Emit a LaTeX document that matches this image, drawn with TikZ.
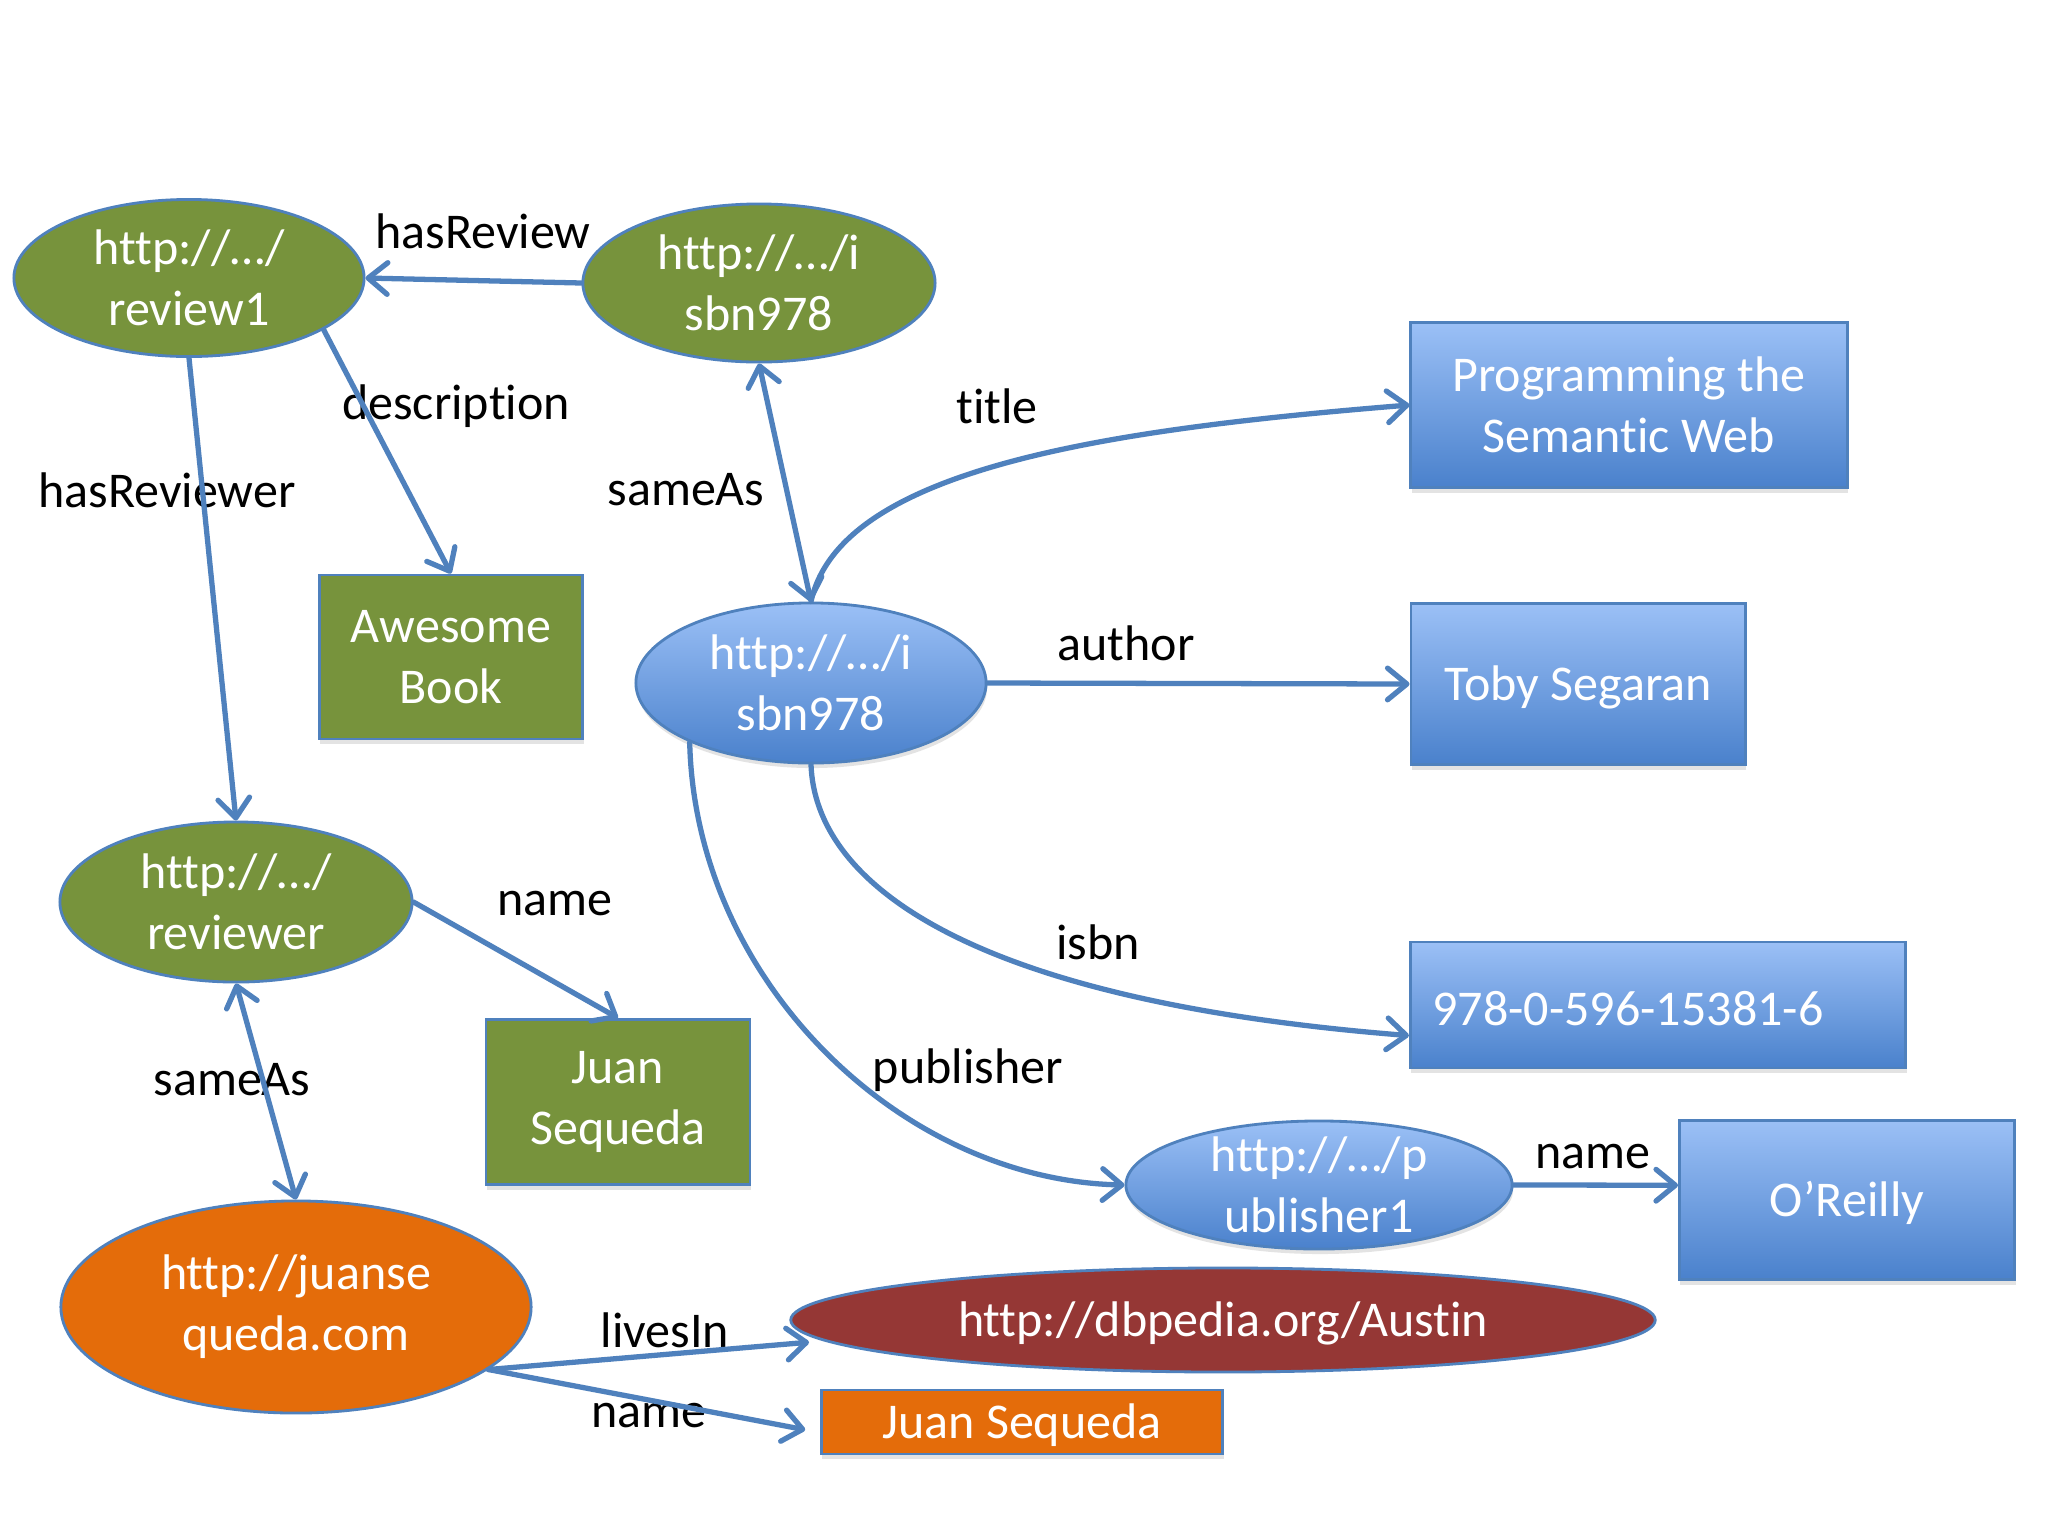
\documentclass[tikz,border=0pt]{standalone}
\usepackage{fontspec}
\setmainfont{Carlito}[Ligatures=NoCommon]
\usetikzlibrary{shapes.geometric,arrows.meta,shadows}
\definecolor{edgeblue}{HTML}{4F81BD}
\definecolor{ogreen}{HTML}{77933C}
\definecolor{btop}{HTML}{9BC0F6}
\definecolor{bbot}{HTML}{4A81CC}
\definecolor{oorange}{HTML}{E46C0A}
\definecolor{dred}{HTML}{953735}
\begin{document}
\begin{tikzpicture}[x=0.01cm,y=-0.01cm,
  font=\fontsize{14.23}{17.36}\selectfont,
  shp/.style={draw=edgeblue, line width=0.8pt, text=white, align=center,
    execute at begin node={\rule{0pt}{0.41cm}}},
  ell/.style={shp, ellipse, inner sep=-0.15cm},
  box/.style={shp, rectangle, inner sep=0pt},
  gfill/.style={fill=ogreen},
  bfill/.style={top color=btop, bottom color=bbot},
  shad/.style={drop shadow={opacity=0.22, shadow xshift=0.01cm, shadow yshift=-0.05cm}},
  lbl/.style={text=black, inner sep=0pt},
  tip/.tip={Straight Barb[length=5.5pt,width=9pt,line join=round,line cap=round]},
  rel/.style={draw=edgeblue, line width=1.5pt, line cap=round, -tip},
  birel/.style={rel, tip-tip}
]
\useasboundingbox (0,0) rectangle (2048,1536);
\fill[white] (0,0) rectangle (2048,1536);

% nodes
\node[ell,gfill,minimum width=3.50cm,minimum height=1.57cm] (rev) at (189,278) {http://…/\\review1};
\node[ell,gfill,minimum width=3.52cm,minimum height=1.58cm] (isg) at (759,283) {http://…/i\\sbn978};
\node[box,bfill,shad,minimum width=4.36cm,minimum height=1.65cm] (prog) at (1629,405) {Programming the\\Semantic Web};
\node[box,gfill,shad,minimum width=2.63cm,minimum height=1.64cm] (awe) at (451,657) {Awesome\\Book};
\node[ell,bfill,shad,minimum width=3.50cm,minimum height=1.60cm] (isb) at (811,683) {http://…/i\\sbn978};
\node[box,bfill,shad,minimum width=3.34cm,minimum height=1.61cm] (toby) at (1578,684) {Toby Segaran};
\node[ell,gfill,minimum width=3.52cm,minimum height=1.60cm] (revr) at (236,902) {http://…/\\reviewer};
\node[box,gfill,shad,minimum width=2.64cm,minimum height=1.65cm] (juang) at (618,1102) {Juan\\Sequeda};
\node[box,bfill,shad,minimum width=4.95cm,minimum height=1.26cm,text width=4.51cm,align=left,inner xsep=0.22cm] (isbnr) at (1658,1005) {978-0-596-15381-6};
\node[ell,bfill,shad,minimum width=3.86cm,minimum height=1.28cm] (pub) at (1319,1185) {http://…/p\\ublisher1};
\node[box,bfill,shad,minimum width=3.35cm,minimum height=1.59cm] (orl) at (1847,1200) {O’Reilly};
\node[ell,fill=oorange,minimum width=4.70cm,minimum height=2.12cm] (js) at (296,1307) {http://juanse\\queda.com};
\node[ell,fill=dred,minimum width=8.64cm,minimum height=1.04cm] (db) at (1223,1320) {http://dbpedia.org/Austin};
\node[box,fill=oorange,shad,minimum width=4.01cm,minimum height=0.64cm] (jso) at (1022,1422) {Juan Sequeda};

% labels
\node[lbl] (lhasrev) at (483,231) {hasReview};
\node[lbl] (ldesc) at (456,406) {description};
\node[lbl] (lhasrevr) at (167,490) {hasReviewer};
\node[lbl] (lsame1) at (686,490) {sameAs};
\node[lbl] (ltitle) at (997,406) {title};
\node[lbl] (lauthor) at (1126,643) {author};
\node[lbl] (lisbn) at (1098,942) {isbn};
\node[lbl] (lpub) at (968,1070) {publisher};
\node[lbl] (lname1) at (1593,1157) {name};
\node[lbl] (lname2) at (555,904) {name};
\node[lbl] (lsame2) at (232,1080) {sameAs};
\node[lbl] (llives) at (665,1330) {livesIn};
\node[lbl] (lname3) at (649,1416) {name};

% connectors
\draw[rel] (isg.west) -- (rev.east);
\draw[rel] (rev.-21) -- (awe.north);
\draw[rel] (rev.south) -- (revr.north);
\draw[birel] (isg.south) -- (isb.north);
\draw[rel] (isb.north) .. controls (840,470) and (1100,430) .. (prog.west);
\draw[rel] (isb.east) -- (toby.west);
\draw[rel] (isb.south) .. controls (815,880) and (960,1000) .. (isbnr.187);
\draw[rel] (isb.206) .. controls (695,980) and (900,1180) .. (pub.west);
\draw[rel] (revr.east) -- (juang.north);
\draw[birel] (revr.south) -- (js.north);
\draw[rel] (pub.east) -- (orl.175);
\draw[rel, shorten >=0.15cm] (js.-18) -- (db.183);
\draw[rel, shorten >=0.15cm] (js.-18) -- (jso.183);
\end{tikzpicture}
\end{document}
